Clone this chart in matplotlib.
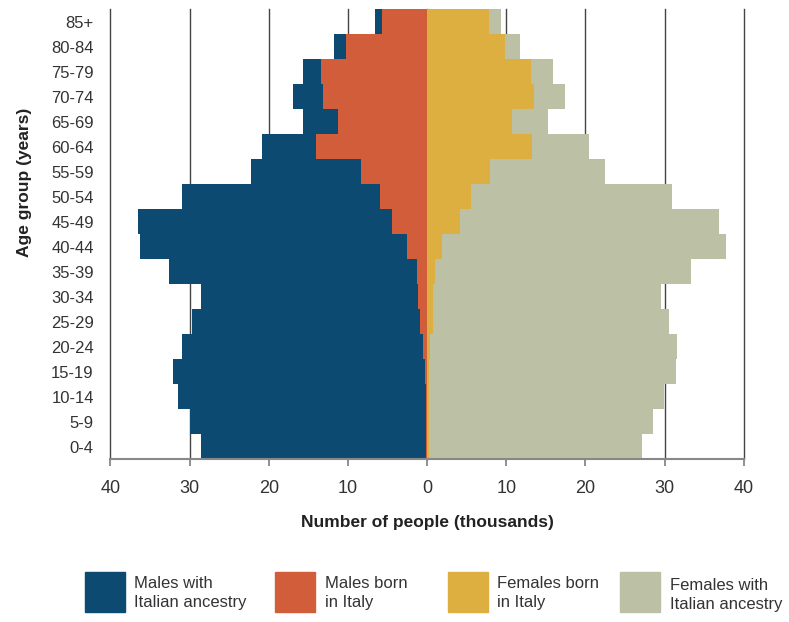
import numpy as np
import matplotlib
matplotlib.use("Agg")
import matplotlib.pyplot as plt
from matplotlib.patches import Rectangle

plt.rcParams['font.family'] = ['Liberation Sans', 'DejaVu Sans']

ages = ["0-4", "5-9", "10-14", "15-19", "20-24", "25-29", "30-34", "35-39",
        "40-44", "45-49", "50-54", "55-59", "60-64", "65-69", "70-74",
        "75-79", "80-84", "85+"]

# thousands of people, youngest first
males_ancestry = [28.6, 29.9, 31.5, 32.1, 31.0, 29.7, 28.6, 32.6, 36.3,
                  36.5, 31.0, 22.3, 20.9, 15.7, 16.9, 15.7, 11.8, 6.6]
males_italy = [0.1, 0.1, 0.15, 0.3, 0.5, 0.9, 1.1, 1.3, 2.5,
               4.4, 6.0, 8.3, 14.0, 11.2, 13.1, 13.4, 10.3, 5.7]
females_italy = [0.3, 0.3, 0.3, 0.3, 0.4, 0.8, 0.8, 1.0, 1.9,
                 4.1, 5.6, 8.0, 13.3, 10.7, 13.5, 13.1, 9.8, 7.8]
females_ancestry = [27.1, 28.6, 29.9, 31.5, 31.6, 30.5, 29.5, 33.4, 37.8,
                    36.9, 31.0, 22.5, 20.5, 15.3, 17.4, 15.9, 11.7, 9.3]

legend_labels = ["Males with\nItalian ancestry", "Males born\nin Italy",
                 "Females born\nin Italy", "Females with\nItalian ancestry"]
colors = ["#0C4A72", "#D15D3B", "#DDAE40", "#BCC1A6"]

fig = plt.figure(figsize=(7.89, 6.22), dpi=100)
ax = fig.add_axes([0.140, 0.262, 0.8026, 0.7235])

y = np.arange(len(ages))
ax.barh(y, -np.array(males_ancestry), height=1.0, color=colors[0], zorder=2)
ax.barh(y, -np.array(males_italy), height=1.0, color=colors[1], zorder=3)
ax.barh(y, females_ancestry, height=1.0, color=colors[3], zorder=2)
ax.barh(y, females_italy, height=1.0, color=colors[2], zorder=3)

ticks = np.arange(-40, 41, 10)
for t in ticks:
    ax.axvline(t, color="#444444", lw=1.0, zorder=1, clip_on=False)

ax.set_xlim(-40, 40)
ax.set_ylim(-0.5, len(ages) - 0.5)
ax.set_xticks(ticks)
ax.set_xticklabels([str(abs(t)) for t in ticks], fontsize=13, color="#333333")
ax.set_yticks(y)
ax.set_yticklabels(ages, fontsize=12, color="#333333")
ax.tick_params(axis="x", length=5, width=1.3, color="#888888", pad=10)
ax.tick_params(axis="y", length=0, pad=12)
for s in ["top", "right", "left"]:
    ax.spines[s].set_visible(False)
ax.spines["bottom"].set_color("#888888")
ax.spines["bottom"].set_linewidth(1.5)
ax.spines["bottom"].set_zorder(4)

fig.text(427 / 789, 1 - 522 / 622, "Number of people (thousands)",
         ha="center", va="center", fontsize=12.5, fontweight="bold", color="#222222")
fig.text(25 / 789, 1 - 182 / 622, "Age group (years)", rotation=90,
         ha="center", va="center", fontsize=12.5, fontweight="bold", color="#222222")

# legend drawn by hand to match the boxed layout
patch_x = [85, 275, 448, 620]
text_x = [134, 325, 497, 670]
text_y = [593, 593, 593, 595]
for px, tx, ty, lab, c in zip(patch_x, text_x, text_y, legend_labels, colors):
    fig.patches.append(Rectangle((px / 789, 1 - 612 / 622), 40 / 789, 40 / 622,
                                 transform=fig.transFigure, color=c))
    fig.text(tx / 789, 1 - ty / 622, lab, ha="left", va="center",
             fontsize=12, color="#333333", linespacing=1.4)

fig.savefig("out.png", dpi=100)
